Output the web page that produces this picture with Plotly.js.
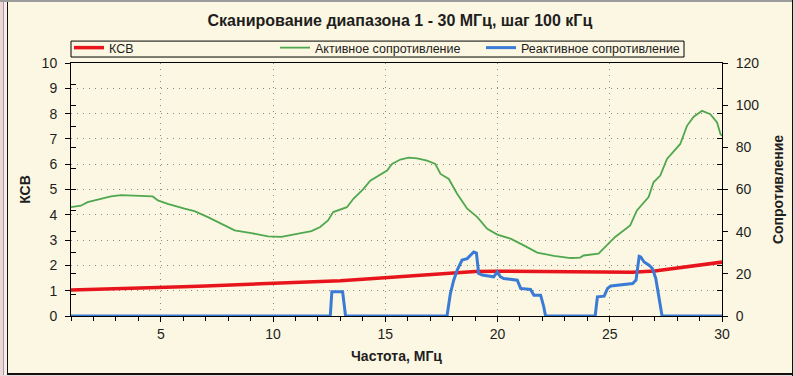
<!DOCTYPE html>
<html>
<head>
<meta charset="utf-8">
<script src="https://cdn.plot.ly/plotly-3.0.1.min.js"></script>
<style>
  html, body { margin: 0; padding: 0; background: #fcf7e2; overflow: hidden; }
  #wrap { position: relative; width: 795px; height: 376px; }
  #plot { position: absolute; left: 0; top: 0; width: 795px; height: 376px; }
  .fr { position: absolute; pointer-events: none; }
</style>
</head>
<body>
<div id="wrap">
  <div id="plot"></div>
  <div class="fr" style="left:0;top:0;width:3px;height:376px;background:#ecd6d6;"></div>
  <div class="fr" style="left:3px;top:0;width:1px;height:376px;background:#a89898;"></div>
  <div class="fr" style="left:4px;top:0;width:3px;height:376px;background:#f6ecec;"></div>
  <div class="fr" style="left:7px;top:0;width:1px;height:376px;background:#111;"></div>
  <div class="fr" style="left:0;top:0;width:795px;height:2px;background:#9c9c9c;"></div>
  <div class="fr" style="left:7px;top:373px;width:788px;height:2px;background:#111;"></div>
  <div class="fr" style="left:0;top:375px;width:795px;height:1px;background:#e8dada;"></div>
  <div class="fr" style="left:792px;top:0;width:1px;height:376px;background:#111;"></div>
  <div class="fr" style="left:793px;top:0;width:2px;height:376px;background:#e0d0d0;"></div>
</div>
<script>
// КСВ (SWR), left axis
const swrFreq = [1,2,3,4,5,6,7,8,9,10,11,12,13,14,15,16,17,18,19,20,21,22,23,24,25,26,27,28,29,30];
const swrVals = [1.03,1.05,1.08,1.11,1.14,1.16,1.19,1.22,1.25,1.29,1.32,1.35,1.39,1.45,1.51,1.58,1.64,1.71,1.76,1.77,1.76,1.75,1.73,1.72,1.72,1.73,1.78,1.90,2.02,2.13];

// Активное сопротивление (Ohm), right axis
const actFreq = [1.0,1.44,1.74,2.19,2.78,3.23,3.67,4.64,4.87,5.31,6.06,6.5,7.1,7.69,8.29,9.03,9.78,10.37,10.97,11.71,12.1,12.45,12.68,12.99,13.29,13.58,14.03,14.33,14.78,15.08,15.3,15.67,16.04,16.42,16.86,17.23,17.46,17.83,18.2,18.65,19.1,19.54,19.99,20.58,21.17,21.77,22.51,23.26,23.68,23.83,24.5,24.8,25.24,25.91,26.21,26.73,26.95,27.25,27.55,28.14,28.44,28.74,29.11,29.48,29.78,29.93,30.0];
const actVals = [51.6,52.3,54.0,55.1,56.7,57.3,57.2,56.7,54.8,53.2,50.9,49.7,46.9,43.8,40.6,39.3,37.8,37.5,38.7,40.3,42.2,45.3,49.3,50.5,51.6,55.6,60.3,64.2,66.9,69.0,72.1,74.2,75.1,74.8,73.7,72.1,67.4,65.0,58.0,50.9,46.9,41.4,38.6,36.7,33.5,30.1,28.5,27.5,27.7,28.7,29.6,32.7,37.5,43.0,50.1,56.4,63.4,66.6,74.5,81.6,90.2,94.5,97.3,95.7,91.8,86.3,85.5];

// Реактивное сопротивление (Ohm), right axis
const reactFreq = [1,12.55,12.62,13.1,13.23,17.75,17.9,18.05,18.2,18.42,18.65,18.94,19.06,19.16,19.32,19.69,19.83,19.99,20.13,20.28,20.88,21.03,21.47,21.62,21.92,22.06,22.14,24.35,24.45,24.75,24.9,25.05,25.5,26.02,26.17,26.24,26.31,26.38,26.53,26.75,26.9,27.05,27.2,27.33,30];
const reactVals = [0,0,11.5,11.5,0,0,10.7,17.0,21.7,26.5,27.2,30.4,29.9,20.2,19.4,18.9,18.6,20.9,18.6,17.8,17.0,13.1,12.6,9.9,9.9,4.4,0,0,9.1,9.4,13.1,14.2,14.6,15.4,17.0,23.3,28.3,28.0,25.6,24.1,22.5,17.8,7.6,0,0];

const leftTicks = [0,1,2,3,4,5,6,7,8,9,10];
const rightTicks = [0,20,40,60,80,100,120];
const xTicks = [5,10,15,20,25,30];

const FONT = 'Liberation Sans, Arial, sans-serif';
const TXT = '#1e1e1e';

const traces = [
  {x: swrFreq, y: swrVals, name: 'КСВ', type: 'scatter', mode: 'lines',
   line: {color: '#e8141c', width: 3.5}, yaxis: 'y'},
  {x: actFreq, y: actVals, name: 'Активное сопротивление', type: 'scatter', mode: 'lines',
   line: {color: '#4fa84f', width: 1.8}, yaxis: 'y2'},
  {x: reactFreq, y: reactVals, name: 'Реактивное сопротивление', type: 'scatter', mode: 'lines',
   line: {color: '#3a7bd5', width: 3}, yaxis: 'y2', cliponaxis: false}
];

// plot area in px: x 71..722, y 62..316
const PL = 71, PR = 722, PT = 62, PB = 316;
const px2paperX = p => (p - PL) / (PR - PL);
const px2paperY = p => (PB - p) / (PB - PT);

const layout = {
  width: 795, height: 376,
  paper_bgcolor: 'rgba(0,0,0,0)', plot_bgcolor: 'rgba(0,0,0,0)',
  margin: {l: PL, r: 795 - PR, t: PT, b: 376 - PB},
  font: {family: FONT, color: TXT, size: 14},
  title: {text: '<b>Сканирование диапазона 1 - 30 МГц, шаг 100 кГц</b>',
          font: {family: FONT, size: 16, color: TXT},
          x: 0.503, xref: 'container', xanchor: 'center', y: 0.945, yref: 'container', yanchor: 'middle'},
  showlegend: true,
  legend: {orientation: 'h', xref: 'container', yref: 'container',
           x: 69/795, y: 1 - 33/376, xanchor: 'left', yanchor: 'top',
           bgcolor: 'rgba(0,0,0,0)', borderwidth: 0,
           font: {family: FONT, size: 12.5, color: TXT},
           entrywidth: 161, entrywidthmode: 'pixels', itemwidth: 30, tracegroupgap: 0},
  shapes: [
    {type: 'rect', xref: 'paper', yref: 'paper', layer: 'below',
     x0: px2paperX(71), x1: px2paperX(684), y0: px2paperY(56), y1: px2paperY(40),
     line: {color: '#000', width: 1}, fillcolor: 'rgba(0,0,0,0)'}
  ],
  xaxis: {range: [1, 30], tickvals: xTicks, ticks: 'outside', ticklen: 5, tickwidth: 1, tickcolor: '#000',
          showline: true, linecolor: '#000', linewidth: 1, mirror: true, zeroline: false,
          showgrid: true, gridcolor: '#8a8a8a', griddash: '1px,5px', gridwidth: 1,
          minor: {dtick: 1, tick0: 0, ticks: 'outside', ticklen: 4, tickcolor: '#000', showgrid: false},
          tickfont: {size: 14}, ticklabelstandoff: 0,
          title: {text: '<b>Частота, МГц</b>', font: {size: 14}, standoff: 10}},
  yaxis: {range: [0, 10], tickvals: leftTicks, ticks: 'outside', ticklen: 5, tickcolor: '#000',
          showline: true, linecolor: '#000', linewidth: 1, zeroline: false,
          showgrid: true, gridcolor: '#8a8a8a', griddash: '1px,5px', gridwidth: 1,
          minor: {tickvals: [10,20,30,40,50,60,70,80,90,100,110].map(v => v/12), ticks: 'inside', ticklen: 5, tickcolor: '#000', showgrid: false},
          tickfont: {size: 14}, ticklabelstandoff: 5,
          title: {text: '<b>КСВ</b>', font: {size: 14}, standoff: 7}},
  yaxis2: {range: [0, 120], tickvals: rightTicks, overlaying: 'y', side: 'right',
           ticks: 'outside', ticklen: 5, tickcolor: '#000',
           showline: true, linecolor: '#000', linewidth: 1, zeroline: false, showgrid: false,
           minor: {tickvals: [12,24,36,48,60,72,84,96,108], ticks: 'inside', ticklen: 5, tickcolor: '#000', showgrid: false},
           tickfont: {size: 14}, ticklabelstandoff: 5,
           title: {text: '<b>Сопротивление</b>', font: {size: 14}, standoff: 14}}
};

Plotly.newPlot('plot', traces, layout, {displayModeBar: false, staticPlot: true});
</script>
</body>
</html>
